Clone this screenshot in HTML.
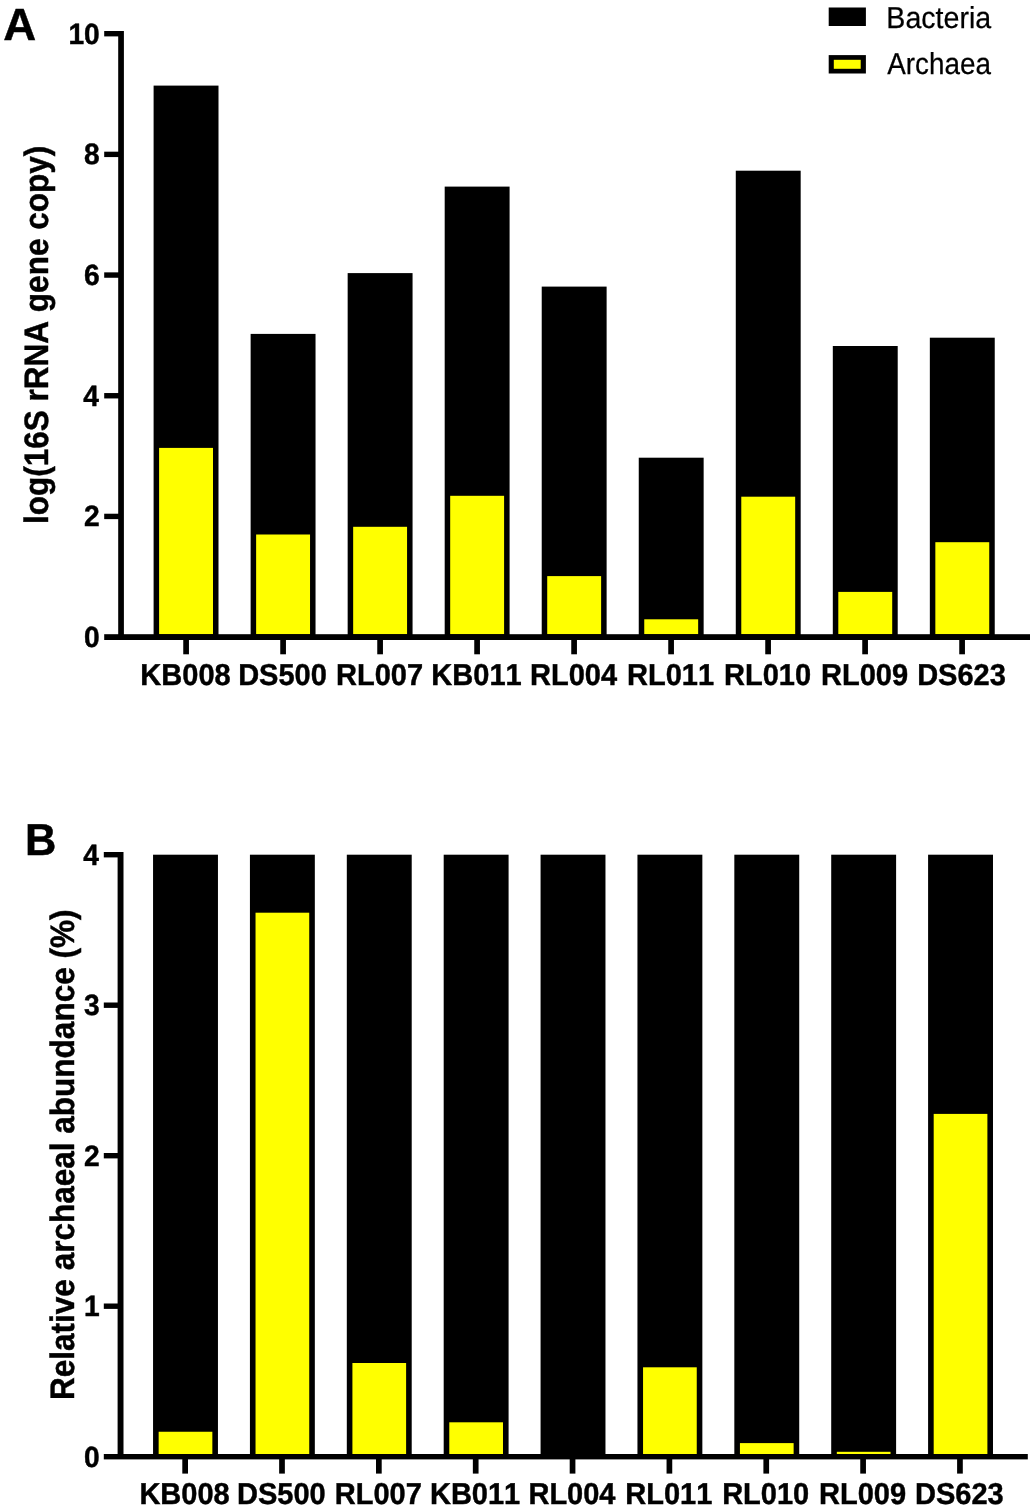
<!DOCTYPE html>
<html><head><meta charset="utf-8"><title>Figure</title>
<style>html,body{margin:0;padding:0;background:#fff}svg{display:block}text{font-family:"Liberation Sans",Arial,Helvetica,sans-serif;fill:#000;font-kerning:none;text-rendering:geometricPrecision;stroke:#000;stroke-width:.25px}.b{font-weight:700;stroke:#000;stroke-width:.45px;stroke-linejoin:miter}</style></head><body>
<svg width="1034" height="1509" viewBox="0 0 1034 1509">
<rect x="0" y="0" width="1034" height="1509" fill="#fff"/>
<rect x="153.60" y="85.60" width="64.90" height="553.40" fill="#000"/>
<rect x="159.10" y="447.90" width="53.90" height="186.30" fill="#ffff00"/>
<rect x="250.63" y="333.90" width="64.90" height="305.10" fill="#000"/>
<rect x="256.13" y="534.50" width="53.90" height="99.70" fill="#ffff00"/>
<rect x="347.66" y="273.10" width="64.90" height="365.90" fill="#000"/>
<rect x="353.16" y="526.80" width="53.90" height="107.40" fill="#ffff00"/>
<rect x="444.69" y="186.60" width="64.90" height="452.40" fill="#000"/>
<rect x="450.19" y="495.80" width="53.90" height="138.40" fill="#ffff00"/>
<rect x="541.72" y="286.60" width="64.90" height="352.40" fill="#000"/>
<rect x="547.22" y="576.10" width="53.90" height="58.10" fill="#ffff00"/>
<rect x="638.75" y="457.70" width="64.90" height="181.30" fill="#000"/>
<rect x="644.25" y="619.30" width="53.90" height="14.90" fill="#ffff00"/>
<rect x="735.78" y="170.70" width="64.90" height="468.30" fill="#000"/>
<rect x="741.28" y="496.70" width="53.90" height="137.50" fill="#ffff00"/>
<rect x="832.81" y="346.00" width="64.90" height="293.00" fill="#000"/>
<rect x="838.31" y="591.90" width="53.90" height="42.30" fill="#ffff00"/>
<rect x="929.84" y="337.70" width="64.90" height="301.30" fill="#000"/>
<rect x="935.34" y="542.20" width="53.90" height="92.00" fill="#ffff00"/>
<rect x="118.20" y="31.00" width="5.70" height="604.20" fill="#000"/>
<rect x="104.20" y="634.20" width="925.80" height="5.80" fill="#000"/>
<text class="b" transform="translate(99.80,647.00) scale(0.9620,1)" font-size="29.30" text-anchor="end">0</text>
<rect x="104.20" y="513.72" width="15.00" height="5.40" fill="#000"/>
<text class="b" transform="translate(99.80,526.00) scale(0.9620,1)" font-size="29.30" text-anchor="end">2</text>
<rect x="104.20" y="393.04" width="15.00" height="5.40" fill="#000"/>
<text class="b" transform="translate(99.00,406.00) scale(0.9620,1)" font-size="29.30" text-anchor="end">4</text>
<rect x="104.20" y="272.36" width="15.00" height="5.40" fill="#000"/>
<text class="b" transform="translate(99.80,285.00) scale(0.9620,1)" font-size="29.30" text-anchor="end">6</text>
<rect x="104.20" y="151.68" width="15.00" height="5.40" fill="#000"/>
<text class="b" transform="translate(99.80,164.00) scale(0.9620,1)" font-size="29.30" text-anchor="end">8</text>
<rect x="104.20" y="31.00" width="15.00" height="5.40" fill="#000"/>
<text class="b" transform="translate(99.80,44.00) scale(0.9620,1)" font-size="29.30" text-anchor="end">10</text>
<rect x="183.25" y="639.00" width="5.70" height="15.30" fill="#000"/>
<text class="b" transform="translate(185.50,685.00) scale(0.9587,1)" font-size="30.25" text-anchor="middle">KB008</text>
<rect x="280.25" y="639.00" width="5.70" height="15.30" fill="#000"/>
<text class="b" transform="translate(282.50,685.00) scale(0.9587,1)" font-size="30.25" text-anchor="middle">DS500</text>
<rect x="377.25" y="639.00" width="5.70" height="15.30" fill="#000"/>
<text class="b" transform="translate(379.50,685.00) scale(0.9587,1)" font-size="30.25" text-anchor="middle">RL007</text>
<rect x="474.25" y="639.00" width="5.70" height="15.30" fill="#000"/>
<text class="b" transform="translate(476.50,685.00) scale(0.9587,1)" font-size="30.25" text-anchor="middle">KB011</text>
<rect x="571.25" y="639.00" width="5.70" height="15.30" fill="#000"/>
<text class="b" transform="translate(573.50,685.00) scale(0.9587,1)" font-size="30.25" text-anchor="middle">RL004</text>
<rect x="668.25" y="639.00" width="5.70" height="15.30" fill="#000"/>
<text class="b" transform="translate(670.50,685.00) scale(0.9587,1)" font-size="30.25" text-anchor="middle">RL011</text>
<rect x="765.25" y="639.00" width="5.70" height="15.30" fill="#000"/>
<text class="b" transform="translate(767.50,685.00) scale(0.9587,1)" font-size="30.25" text-anchor="middle">RL010</text>
<rect x="862.25" y="639.00" width="5.70" height="15.30" fill="#000"/>
<text class="b" transform="translate(864.50,685.00) scale(0.9587,1)" font-size="30.25" text-anchor="middle">RL009</text>
<rect x="959.25" y="639.00" width="5.70" height="15.30" fill="#000"/>
<text class="b" transform="translate(961.50,685.00) scale(0.9587,1)" font-size="30.25" text-anchor="middle">DS623</text>
<rect x="153.05" y="854.70" width="64.90" height="603.70" fill="#000"/>
<rect x="158.65" y="1431.75" width="53.70" height="22.25" fill="#ffff00"/>
<rect x="249.93" y="854.70" width="64.90" height="603.70" fill="#000"/>
<rect x="255.53" y="912.70" width="53.70" height="541.30" fill="#ffff00"/>
<rect x="346.81" y="854.70" width="64.90" height="603.70" fill="#000"/>
<rect x="352.41" y="1363.00" width="53.70" height="91.00" fill="#ffff00"/>
<rect x="443.69" y="854.70" width="64.90" height="603.70" fill="#000"/>
<rect x="449.29" y="1422.30" width="53.70" height="31.70" fill="#ffff00"/>
<rect x="540.57" y="854.70" width="64.90" height="603.70" fill="#000"/>
<rect x="637.45" y="854.70" width="64.90" height="603.70" fill="#000"/>
<rect x="643.05" y="1367.30" width="53.70" height="86.70" fill="#ffff00"/>
<rect x="734.33" y="854.70" width="64.90" height="603.70" fill="#000"/>
<rect x="739.93" y="1443.10" width="53.70" height="10.90" fill="#ffff00"/>
<rect x="831.21" y="854.70" width="64.90" height="603.70" fill="#000"/>
<rect x="836.81" y="1451.80" width="53.70" height="2.20" fill="#ffff00"/>
<rect x="928.09" y="854.70" width="64.90" height="603.70" fill="#000"/>
<rect x="933.69" y="1113.90" width="53.70" height="340.10" fill="#ffff00"/>
<rect x="117.60" y="852.00" width="5.90" height="603.00" fill="#000"/>
<rect x="103.80" y="1454.00" width="924.00" height="5.40" fill="#000"/>
<text class="b" transform="translate(99.80,1467.00) scale(0.9620,1)" font-size="29.30" text-anchor="end">0</text>
<rect x="103.80" y="1303.50" width="14.80" height="5.40" fill="#000"/>
<text class="b" transform="translate(99.80,1316.00) scale(0.9620,1)" font-size="29.30" text-anchor="end">1</text>
<rect x="103.80" y="1153.00" width="14.80" height="5.40" fill="#000"/>
<text class="b" transform="translate(99.80,1166.00) scale(0.9620,1)" font-size="29.30" text-anchor="end">2</text>
<rect x="103.80" y="1002.50" width="14.80" height="5.40" fill="#000"/>
<text class="b" transform="translate(99.80,1015.00) scale(0.9620,1)" font-size="29.30" text-anchor="end">3</text>
<rect x="103.80" y="852.00" width="14.80" height="5.40" fill="#000"/>
<text class="b" transform="translate(99.00,865.00) scale(0.9620,1)" font-size="29.30" text-anchor="end">4</text>
<rect x="182.30" y="1458.40" width="5.70" height="15.20" fill="#000"/>
<text class="b" transform="translate(184.55,1504.00) scale(0.9587,1)" font-size="30.25" text-anchor="middle">KB008</text>
<rect x="279.15" y="1458.40" width="5.70" height="15.20" fill="#000"/>
<text class="b" transform="translate(281.40,1504.00) scale(0.9587,1)" font-size="30.25" text-anchor="middle">DS500</text>
<rect x="376.00" y="1458.40" width="5.70" height="15.20" fill="#000"/>
<text class="b" transform="translate(378.25,1504.00) scale(0.9587,1)" font-size="30.25" text-anchor="middle">RL007</text>
<rect x="472.85" y="1458.40" width="5.70" height="15.20" fill="#000"/>
<text class="b" transform="translate(475.10,1504.00) scale(0.9587,1)" font-size="30.25" text-anchor="middle">KB011</text>
<rect x="569.70" y="1458.40" width="5.70" height="15.20" fill="#000"/>
<text class="b" transform="translate(571.95,1504.00) scale(0.9587,1)" font-size="30.25" text-anchor="middle">RL004</text>
<rect x="666.55" y="1458.40" width="5.70" height="15.20" fill="#000"/>
<text class="b" transform="translate(668.80,1504.00) scale(0.9587,1)" font-size="30.25" text-anchor="middle">RL011</text>
<rect x="763.40" y="1458.40" width="5.70" height="15.20" fill="#000"/>
<text class="b" transform="translate(765.65,1504.00) scale(0.9587,1)" font-size="30.25" text-anchor="middle">RL010</text>
<rect x="860.25" y="1458.40" width="5.70" height="15.20" fill="#000"/>
<text class="b" transform="translate(862.50,1504.00) scale(0.9587,1)" font-size="30.25" text-anchor="middle">RL009</text>
<rect x="957.10" y="1458.40" width="5.70" height="15.20" fill="#000"/>
<text class="b" transform="translate(959.35,1504.00) scale(0.9587,1)" font-size="30.25" text-anchor="middle">DS623</text>
<text class="b" transform="translate(47.70,524.10) rotate(-90) scale(0.9311,1)" font-size="33.87" text-anchor="start">log(16S rRNA gene copy)</text>
<text class="b" transform="translate(73.70,1400.01) rotate(-90) scale(0.9309,1)" font-size="33.87" text-anchor="start">Relative archaeal abundance (%)</text>
<text class="b" transform="translate(3.16,39.70) scale(1.0122,1)" font-size="45.06" text-anchor="start">A</text>
<text class="b" transform="translate(24.99,855.00) scale(0.9738,1)" font-size="44.62" text-anchor="start">B</text>
<rect x="828.70" y="7.50" width="37.20" height="18.50" fill="#000"/>
<rect x="828.70" y="55.10" width="37.20" height="18.40" fill="#000"/>
<rect x="833.80" y="59.80" width="26.90" height="9.00" fill="#ffff00"/>
<text transform="translate(886.36,27.60) scale(0.9453,1)" font-size="30.23" text-anchor="start">Bacteria</text>
<text transform="translate(887.25,74.40) scale(0.9205,1)" font-size="30.23" text-anchor="start">Archaea</text>
</svg></body></html>
